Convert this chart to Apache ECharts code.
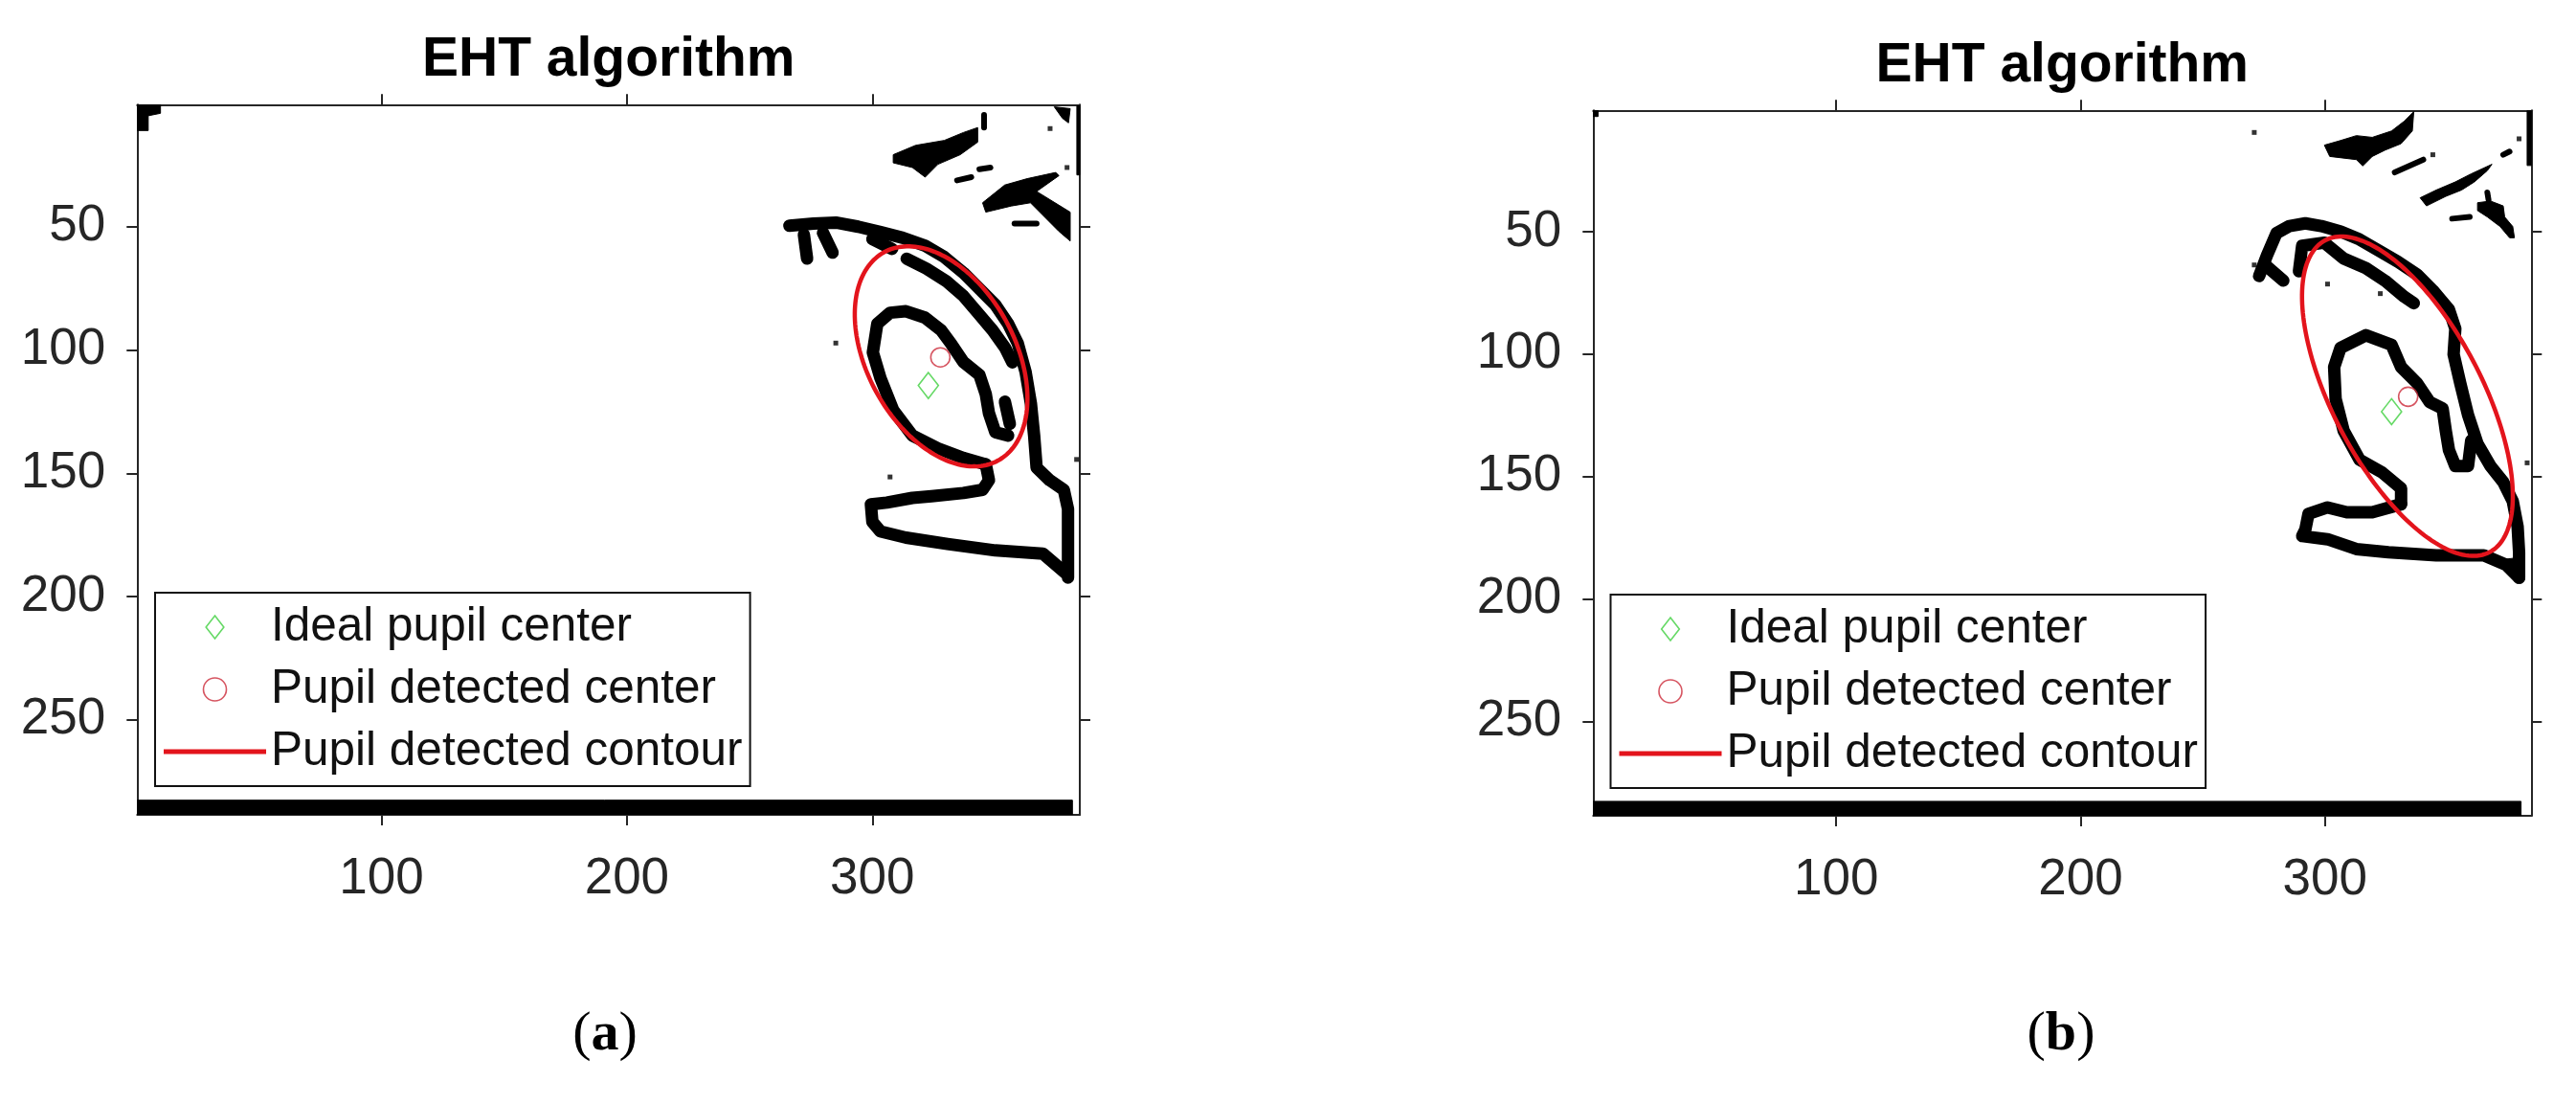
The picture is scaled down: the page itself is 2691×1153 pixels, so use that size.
<!DOCTYPE html>
<html>
<head>
<meta charset="utf-8">
<script src="https://cdn.jsdelivr.net/npm/echarts@6/dist/echarts.min.js"></script>
<style>
html,body{margin:0;padding:0;background:#fff;}
#chart{width:2691px;height:1153px;}
</style>
</head>
<body>
<div id="chart"></div>
<script>
// ---------------- DATA ----------------
const xTickValues = [100, 200, 300];
const yTickValues = [50, 100, 150, 200, 250];
const imageCols = 384;
const imageRows = 288;
const titleText = 'EHT algorithm';
const legendNames = ['Ideal pupil center', 'Pupil detected center', 'Pupil detected contour'];
const panelLabels = ['a', 'b'];

// Panel (a)
const aIdealCenter = [[322.8, 114.4]];
const aDetectedCenter = [[327.7, 103.0]];
// ellipse: centre x, centre y, semi-major, semi-minor, tilt (deg, image coords)
const aContour = [328.0, 102.6, 48.2, 30.1, 61.1];
const aEdgeStrokes = [
  [[266.2,49.6],[276.0,48.7],[285.1,48.3],[294.2,50.0],[303.3,52.2],[312.4,54.5],[321.5,57.7],[329.3,62.3],[337.1,68.7],[343.6,75.2],[350.1,81.7],[355.3,89.4],[359.2,97.2],[362.4,108.8],[364.6,121.8],[365.9,134.7],[366.9,147.7],[372.2,152.8],[378.0,156.7],[379.7,164.5],[379.7,177.4],[379.7,192.3]],
  [[314,63],[322,67],[330,72],[337,78],[343,85],[349,92],[354,99],[357,105]],
  [[272.1,53.2],[273.4,62.9]],
  [[279.9,52.5],[283.8,60.5]],
  [[300,55],[308,59]],
  [[346.2,146.4],[337.1,143.8],[326.7,139.9],[316.3,134.7],[308.5,124.4],[303.3,111.4],[300.2,101],[302,89.4],[307.2,84.9],[313.7,84.3],[321.5,86.9],[328.0,92.0],[331.9,97.2],[337.1,104.9],[343.6,110.1],[346.2,117.9],[347.5,125.7],[350.1,133.4],[355.3,134.7]],
  [[354,121],[356,130]],
  [[346.2,146.4],[347.5,152.8],[344.9,156.7],[337.1,158.0],[324.1,159.3],[316.3,160.0],[305.9,161.9],[299.4,162.6],[300.0,169.7],[303.3,173.6],[313.7,176.1],[330.6,178.7],[350.1,181.3],[369.5,182.6],[378.6,190.4]]
];
const aEdgeThin = [
  [[345.5,4.7],[345.5,9.8]],
  [[343.6,26.7],[348.1,26.0]],
  [[334.5,31.2],[340.3,29.9]],
  [[357.9,48.7],[366.9,48.7]]
];
const aEdgeBlobs = [
  [[308.5,20.8],[317.6,17],[329.3,15],[337.1,11.8],[342.9,9.8],[342.9,15.7],[335.8,20.8],[326.7,24.7],[321.5,29.9],[316.3,26],[308.5,24.1]],
  [[344.9,40.3],[353.9,33.1],[363.1,30.5],[374.7,28],[376,29.3],[366.9,35.7],[380.6,44.1],[380.6,55.8],[376,51.9],[364.4,40.3],[356.6,41.6],[346.2,44.1]],
  [[374.1,1.4],[380.6,2.1],[379.9,7.9],[377.4,6.0]],
  [[383.3,1],[384.5,1],[384.5,29],[383.3,29]],
  [[0.5,0.5],[10,0.5],[10,4],[5,5],[5,11],[0.5,11]],
  [[0.5,282.6],[381.5,282.6],[381.5,288.5],[0.5,288.5]]
];
const aEdgeDots = [[372.4,10.2],[285.1,97.2],[307.2,151.5],[383.2,144.4],[379.3,26.0]];

// Panel (b)
const bIdealCenter = [[327.3, 123.5]];
const bDetectedCenter = [[334.1, 117.4]];
const bContour = [333.8, 117.2, 72.0, 30.5, 62.1];
const bEdgeStrokes = [
  [[273.1,68.1],[276.3,59.7],[280.2,50.6],[285.5,47.7],[292.0,46.6],[298.5,47.7],[306.4,49.9],[314.2,53.2],[322.0,57.7],[329.9,62.3],[337.7,67.5],[344.2,74.0],[350.8,81.8],[353.4,89.6],[352.7,100.1],[355.4,111.8],[358.6,124.8],[362.5,136.6],[367.8,145.7],[373.0,152.2],[376.9,160.0],[378.9,170.4],[379.5,180.9],[379.5,191.3]],
  [[289.4,66.2],[290.7,55.8],[299.8,54.5],[307.7,61.0],[316.8,64.9],[324.7,70.1],[332.5,76.6],[336.4,79.2]],
  [[276,64],[283,70]],
  [[331.2,161.3],[331.2,154.8],[323.4,148.3],[314.2,143.1],[307.7,131.3],[304.4,118.3],[303.8,105.3],[306.4,97.5],[316.8,92.3],[327.3,96.2],[331.2,105.3],[337.7,111.8],[342.9,119.6],[348.2,122.2],[349.5,131.3],[350.8,139.2],[353.4,145.7],[358.6,145.7],[359.9,135.3]],
  [[331.2,161.3],[319.4,164.6],[309.0,164.6],[301.1,162.6],[293.3,165.2],[292.0,171.7],[290.7,174.3],[301.1,175.6],[312.9,179.6],[326.0,180.9],[345.6,182.2],[365.1,182.2],[374.3,186.1],[379.5,191.3]]
];
const bEdgeThin = [
  [[328.6,25.8],[340.3,20.6]],
  [[352.1,44.7],[359.3,44.0]],
  [[373.0,18.6],[375.6,17.3]],
  [[366.5,34],[367,37]]
];
const bEdgeBlobs = [
  [[299.8,14.7],[306.4,12.8],[312.9,10.8],[319.4,11.5],[327.3,8.9],[332.5,4.9],[336.4,1.0],[335.8,8.9],[331.2,14.1],[324.7,16.7],[319.4,19.3],[315.5,23.2],[312.9,20.6],[302,19.3]],
  [[339,36.2],[345.6,33],[353.4,29.7],[359.9,26.4],[368.4,22.5],[366.5,25.1],[361.2,29.7],[356,33],[349.5,35.6],[341.6,39.5]],
  [[362.5,38.2],[367.8,37.5],[373,39.5],[373.6,44],[376.9,47.9],[377.6,52.5],[375.6,52.5],[371.7,47.9],[366.5,44],[362.5,41.4]],
  [[382.8,0.5],[384.5,0.5],[384.5,23],[382.8,23]],
  [[0.5,0.5],[2.5,0.5],[2.5,3],[0.5,3]],
  [[372,184],[379.8,183],[380,193],[374,188]],
  [[0.5,282.6],[380.3,282.6],[380.3,288.5],[0.5,288.5]]
];
const bEdgeDots = [[271.1,9.5],[301.1,71.4],[271.1,63.6],[322.7,75.3],[344.2,18.6],[379.5,12.1],[382.8,144.4]];

// ---------------- STYLE ----------------
const FONT = "'Liberation Sans', Arial, Helvetica, sans-serif";
const SERIF = "'Liberation Serif', 'Times New Roman', serif";
const AXIS_COLOR = '#262626';
const RED = '#e3141c';
const RED_MARK = '#cc2a3a';
const GREEN = '#3fcf3f';

const panels = [
  {grid:{left:143.3, top:109.3, width:984.7, height:741.6}, title:{x:635.7, top:35}, label:{x:632, top:1052},
   legend:{left:162, top:619}, ideal:aIdealCenter, detected:aDetectedCenter, contour:aContour,
   strokes:aEdgeStrokes, thin:aEdgeThin, blobs:aEdgeBlobs, dots:aEdgeDots},
  {grid:{left:1664.3, top:115.3, width:980, height:736.7}, title:{x:2154.3, top:41}, label:{x:2153, top:1052},
   legend:{left:1682.5, top:621}, ideal:bIdealCenter, detected:bDetectedCenter, contour:bContour,
   strokes:bEdgeStrokes, thin:bEdgeThin, blobs:bEdgeBlobs, dots:bEdgeDots}
];

const grids = [], xAxes = [], yAxes = [], series = [], titles = [], legends = [];

function tickCfg(values){
  return {show:true, inside:false, length:11, customValues:values, lineStyle:{color:AXIS_COLOR, width:2}};
}
const axisLineCfg = {show:true, onZero:false, lineStyle:{color:AXIS_COLOR, width:2}};

panels.forEach((p, gi) => {
  grids.push(Object.assign({containLabel:false}, p.grid));
  const xi = xAxes.length, yi = yAxes.length;
  xAxes.push({type:'value', gridIndex:gi, position:'bottom', min:0.5, max:imageCols+0.5,
    axisLine:axisLineCfg, axisTick:tickCfg(xTickValues), splitLine:{show:false},
    axisLabel:{show:true, customValues:xTickValues, fontSize:53, color:AXIS_COLOR, fontFamily:FONT, margin:67, verticalAlign:'middle'}});
  xAxes.push({type:'value', gridIndex:gi, position:'top', min:0.5, max:imageCols+0.5,
    axisLine:axisLineCfg, axisTick:tickCfg(xTickValues), splitLine:{show:false}, axisLabel:{show:false}});
  yAxes.push({type:'value', gridIndex:gi, position:'left', inverse:true, min:0.5, max:imageRows+0.5,
    axisLine:axisLineCfg, axisTick:tickCfg(yTickValues), splitLine:{show:false},
    axisLabel:{show:true, customValues:yTickValues, fontSize:53, color:AXIS_COLOR, fontFamily:FONT, margin:33}});
  yAxes.push({type:'value', gridIndex:gi, position:'right', inverse:true, min:0.5, max:imageRows+0.5,
    axisLine:axisLineCfg, axisTick:tickCfg(yTickValues), splitLine:{show:false}, axisLabel:{show:false}});

  // filled edge blobs
  series.push({type:'custom', xAxisIndex:xi, yAxisIndex:yi, silent:true, z:2, clip:true,
    data:p.blobs.map((b,i)=>[b[0][0], b[0][1], i]),
    renderItem:(params, api)=>{
      const poly = p.blobs[params.dataIndex];
      return {type:'polygon', shape:{points:poly.map(pt=>api.coord(pt))}, style:{fill:'#000', stroke:'#000', lineWidth:1}};
    }});
  // thick edge strokes
  series.push({type:'custom', xAxisIndex:xi, yAxisIndex:yi, silent:true, z:2, clip:true,
    data:p.strokes.map((l,i)=>[l[0][0], l[0][1], i]),
    renderItem:(params, api)=>{
      const line = p.strokes[params.dataIndex];
      return {type:'polyline', shape:{points:line.map(pt=>api.coord(pt))},
        style:{fill:null, stroke:'#000', lineWidth:13, lineCap:'round', lineJoin:'round'}};
    }});
  // thin edge strokes
  series.push({type:'custom', xAxisIndex:xi, yAxisIndex:yi, silent:true, z:2, clip:true,
    data:p.thin.map((l,i)=>[l[0][0], l[0][1], i]),
    renderItem:(params, api)=>{
      const line = p.thin[params.dataIndex];
      return {type:'polyline', shape:{points:line.map(pt=>api.coord(pt))},
        style:{fill:null, stroke:'#000', lineWidth:6, lineCap:'round', lineJoin:'round'}};
    }});
  // isolated edge pixels
  series.push({type:'scatter', xAxisIndex:xi, yAxisIndex:yi, silent:true, z:2, data:p.dots,
    symbol:'rect', symbolSize:5, itemStyle:{color:'#000'}});
  // detected contour (ellipse)
  series.push({type:'custom', name:legendNames[2], xAxisIndex:xi, yAxisIndex:yi, silent:true, z:4,
    itemStyle:{color:RED}, data:[[p.contour[0], p.contour[1]]],
    renderItem:(params, api)=>{
      const [cx, cy, ra, rb, deg] = p.contour;
      const th = deg*Math.PI/180, pts = [];
      for (let k=0; k<=180; k++){
        const t = 2*Math.PI*k/180;
        pts.push(api.coord([cx + ra*Math.cos(th)*Math.cos(t) - rb*Math.sin(th)*Math.sin(t),
                            cy + ra*Math.sin(th)*Math.cos(t) + rb*Math.cos(th)*Math.sin(t)]));
      }
      return {type:'polygon', shape:{points:pts}, style:{fill:null, stroke:RED, lineWidth:4.5}};
    }});
  series.push({type:'scatter', name:legendNames[0], xAxisIndex:xi, yAxisIndex:yi, silent:true, z:5,
    data:p.ideal, symbol:'diamond', symbolSize:[21,27],
    itemStyle:{color:'rgba(0,0,0,0)', borderColor:GREEN, borderWidth:1.6}});
  series.push({type:'scatter', name:legendNames[1], xAxisIndex:xi, yAxisIndex:yi, silent:true, z:5,
    data:p.detected, symbol:'circle', symbolSize:20,
    itemStyle:{color:'rgba(0,0,0,0)', borderColor:RED_MARK, borderWidth:1.6}});

  titles.push({text:titleText, left:p.title.x, top:p.title.top, textAlign:'center', padding:0,
    textStyle:{fontFamily:FONT, fontWeight:'bold', fontSize:57, color:'#000'}});
  titles.push({text:'{n|(}{b|' + panelLabels[gi] + '}{n|)}', left:p.label.x, top:p.label.top, textAlign:'center', padding:0,
    textStyle:{fontWeight:'normal', rich:{n:{fontFamily:SERIF, fontSize:58, fontWeight:'normal', color:'#000'},
                                          b:{fontFamily:SERIF, fontSize:58, fontWeight:'bold', color:'#000'}}}});

  legends.push({orient:'vertical', left:p.legend.left, top:p.legend.top, selectedMode:false,
    itemWidth:107, itemHeight:24, itemGap:15, padding:[11, 8, 11, 9],
    backgroundColor:'#fff', borderColor:'#111', borderWidth:2, borderRadius:0,
    symbolKeepAspect:true,
    textStyle:{fontFamily:FONT, fontSize:49.5, lineHeight:50, color:'#111'},
    data:[
      {name:legendNames[0], icon:'path://M10.5,0L21,13.5L10.5,27L0,13.5Z', itemStyle:{color:'rgba(0,0,0,0)', borderColor:GREEN, borderWidth:1.6}},
      {name:legendNames[1], icon:'circle', itemStyle:{color:'rgba(0,0,0,0)', borderColor:RED_MARK, borderWidth:1.6}},
      {name:legendNames[2], icon:'path://M0,0L107,0L107,5L0,5Z', itemStyle:{color:RED, borderWidth:0}}
    ]});
});

const chart = echarts.init(document.getElementById('chart'), null, {renderer:'canvas'});
chart.setOption({
  animation:false,
  backgroundColor:'#fff',
  title:titles,
  legend:legends,
  grid:grids,
  xAxis:xAxes,
  yAxis:yAxes,
  series:series
});
</script>
</body>
</html>
